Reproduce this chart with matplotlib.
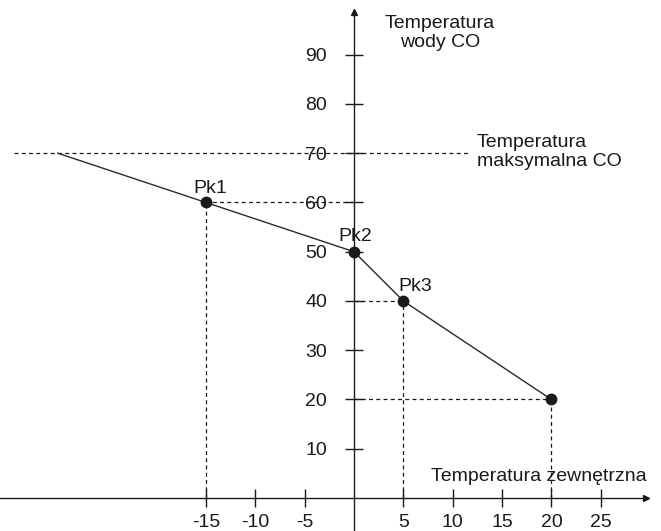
import matplotlib
matplotlib.use("Agg")
import matplotlib.pyplot as plt

plt.rcParams['font.family'] = ['Liberation Sans', 'DejaVu Sans']
plt.rcParams['axes.unicode_minus'] = False

# Heating curve points (outside temp, water temp)
curve_x = [-30, -15, 0, 5, 20]
curve_y = [70, 60, 50, 40, 20]
marker_x = [-15, 0, 5, 20]
marker_y = [60, 50, 40, 20]
point_labels = ["Pk1", "Pk2", "Pk3"]
max_temp = 70

x_ticks = [-15, -10, -5, 5, 10, 15, 20, 25]
y_ticks = [10, 20, 30, 40, 50, 60, 70, 80, 90]

fig = plt.figure(figsize=(6.61, 5.31), dpi=100)
ax = fig.add_axes([0, 0, 1, 1])
xmin, xmax = -35.85, 31.1
ymin, ymax = -6.7, 101.1
ax.set_xlim(xmin, xmax)
ax.set_ylim(ymin, ymax)

ink = '#1a1a1a'
dash = dict(color=ink, lw=0.9, dashes=(3.2, 2.6))

# axes through origin
for s in ['top', 'right']:
    ax.spines[s].set_visible(False)
ax.spines['left'].set_position(('data', 0))
ax.spines['bottom'].set_position(('data', 0))
ax.spines['left'].set_bounds(ymin, 98.7)
ax.spines['bottom'].set_bounds(xmin, 29.6)
for s in ['left', 'bottom']:
    ax.spines[s].set_color(ink)
    ax.spines[s].set_linewidth(1.0)
ax.plot(29.6, 0, '>', color=ink, ms=5, clip_on=False, transform=ax.transData)
ax.plot(0, 98.7, '^', color=ink, ms=5, clip_on=False, transform=ax.transData)

ax.set_xticks(x_ticks)
ax.set_xticklabels([str(v) for v in x_ticks])
ax.set_yticks(y_ticks)
ax.set_yticklabels([str(v) for v in y_ticks])
ax.tick_params(axis='both', direction='inout', length=12.5, width=1.0,
               color=ink, labelcolor=ink, labelsize=14)
ax.tick_params(axis='x', pad=5.5)
ax.tick_params(axis='y', pad=13)

# dashed max temperature line
ax.plot([-34.4, 11.8], [max_temp, max_temp], **dash)

# dashed guides from points to axes
for px, py in zip(marker_x, marker_y):
    if px == 0:
        continue
    ax.plot([0, px], [py, py], **dash)
    ax.plot([px, px], [0, py], **dash)

# heating curve
ax.plot(curve_x, curve_y, color='#2a2a2a', lw=1.0)
ax.plot(marker_x, marker_y, 'o', color=ink, ms=7.5, zorder=5)

fs = 14
ax.text(-14.6, 62.0, point_labels[0], ha='center', va='baseline', fontsize=fs, color=ink)
ax.text(0.1, 52.2, point_labels[1], ha='center', va='baseline', fontsize=fs, color=ink)
ax.text(6.2, 42.0, point_labels[2], ha='center', va='baseline', fontsize=fs, color=ink)

ax.text(8.7, 98.1, "Temperatura\nwody CO", ha='center', va='top', fontsize=fs,
        color=ink, linespacing=1.15)
ax.text(12.45, 70.3, "Temperatura\nmaksymalna CO", ha='left', va='center',
        fontsize=fs, color=ink, linespacing=1.15)
ax.text(7.8, 3.45, "Temperatura zewnętrzna", ha='left', va='baseline',
        fontsize=fs, color=ink)

fig.savefig("out.png", dpi=100)
